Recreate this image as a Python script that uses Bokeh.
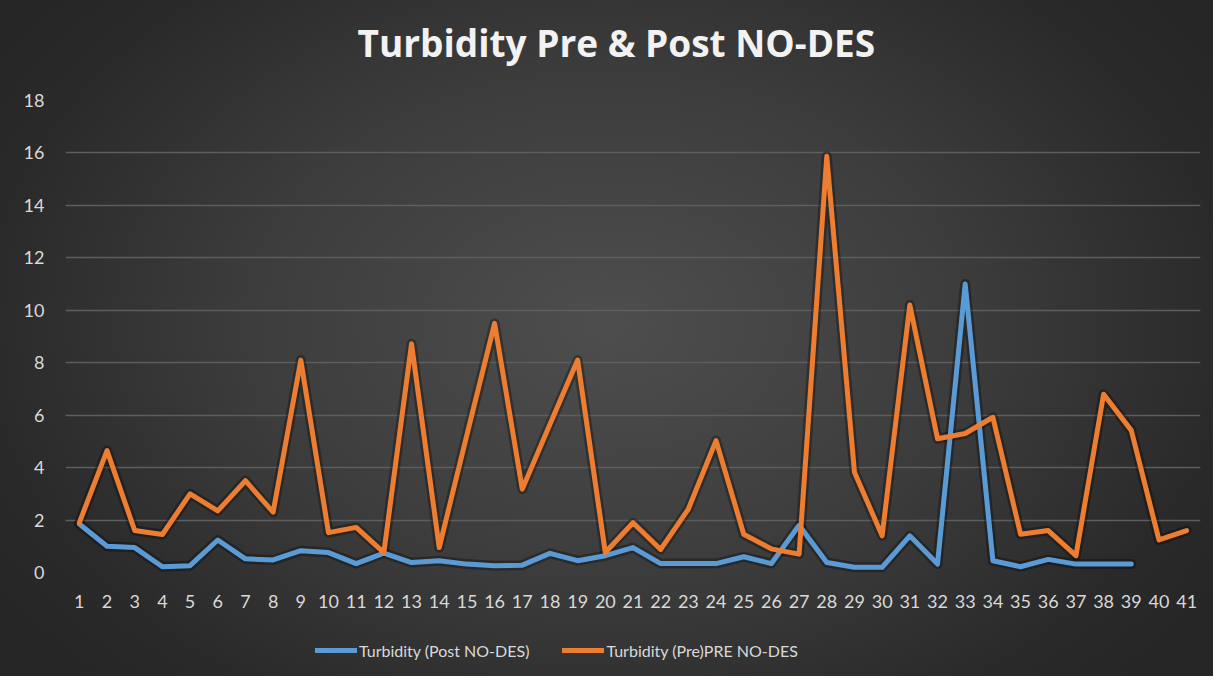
from bokeh.plotting import figure
from bokeh.layouts import column
from bokeh.models import FactorRange, Range1d, FixedTicker, Legend, LegendItem, Title
from bokeh.embed import file_html
from bokeh.resources import INLINE

samples = [str(i) for i in range(1, 42)]
post_values = [1.85, 1.0, 0.95, 0.22, 0.26, 1.24, 0.52, 0.48, 0.83, 0.76,
               0.34, 0.74, 0.38, 0.45, 0.32, 0.26, 0.28, 0.73, 0.45, 0.64,
               0.95, 0.34, 0.34, 0.34, 0.6, 0.34, 1.8, 0.38, 0.2, 0.2,
               1.4, 0.32, 11.0, 0.45, 0.22, 0.5, 0.32, 0.32, 0.32]
pre_values = [1.9, 4.65, 1.6, 1.45, 3.0, 2.35, 3.5, 2.3, 8.1, 1.52,
              1.72, 0.76, 8.72, 0.95, 5.25, 9.5, 3.18, 5.65, 8.1, 0.76,
              1.9, 0.88, 2.42, 5.03, 1.46, 0.9, 0.7, 15.87, 3.82, 1.4,
              10.2, 5.1, 5.3, 5.92, 1.46, 1.6, 0.64, 6.8, 5.42, 1.24, 1.6]
y_ticks = [0, 2, 4, 6, 8, 10, 12, 14, 16, 18]
title_text = "Turbidity Pre & Post NO-DES"
post_label = "Turbidity (Post NO-DES)"
pre_label = "Turbidity (Pre)PRE NO-DES"

FONT = "Lato"
TXT = "#d9d9d9"
BLUE = "#5b9bd5"
ORANGE = "#ed7d31"


def strip(height):
    f = figure(width=1213, height=height, output_backend="svg", toolbar_location=None,
               x_axis_location=None, y_axis_location=None, min_border=0,
               x_range=FactorRange(factors=samples), y_range=Range1d(-40, -30),
               title=None)
    f.border_fill_color = None
    f.background_fill_color = None
    f.outline_line_color = None
    f.grid.visible = False
    return f


# title strip
top = strip(88)
top.add_layout(Title(text=title_text, align="left", offset=292, vertical_align="top",
                     standoff=32, text_font="Open Sans", text_font_style="bold",
                     text_font_size="37px", text_color="#f2f2f2"), "above")

# main chart
p = figure(width=1213, height=532,
           x_range=FactorRange(factors=samples),
           y_range=Range1d(0, 18),
           output_backend="svg", toolbar_location=None, title=None,
           min_border_left=65, min_border_right=13,
           min_border_top=12, min_border_bottom=48)
p.border_fill_color = None
p.background_fill_color = None
p.outline_line_color = None

for ax in (p.xaxis[0], p.yaxis[0]):
    ax.axis_line_color = None
    ax.major_tick_line_color = None
    ax.minor_tick_line_color = None
    ax.major_label_text_font = FONT
    ax.major_label_text_font_size = "18px"
    ax.major_label_text_color = TXT
p.xaxis[0].major_label_standoff = 16
p.yaxis[0].major_label_standoff = 15
p.yaxis[0].ticker = FixedTicker(ticks=y_ticks)

p.xgrid.visible = False
p.ygrid.grid_line_color = "#5e5e5e"
p.ygrid.grid_line_width = 1.5

# shadows
p.line(x=samples[:len(post_values)], y=post_values, line_width=10, line_color="black",
       line_alpha=0.3, line_join="round", line_cap="round")
p.line(x=samples, y=pre_values, line_width=10, line_color="black",
       line_alpha=0.3, line_join="round", line_cap="round")

p.line(x=samples[:len(post_values)], y=post_values, line_width=5,
       line_color=BLUE, line_join="round", line_cap="round")
p.line(x=samples, y=pre_values, line_width=5,
       line_color=ORANGE, line_join="round", line_cap="round")

# legend strip (same series, drawn out of its view so only the legend keys show)
lg = strip(56)
k_post = lg.line(x=samples[:len(post_values)], y=post_values, line_width=5,
                 line_color=BLUE, line_cap="round")
k_pre = lg.line(x=samples, y=pre_values, line_width=5,
                line_color=ORANGE, line_cap="round")
legend = Legend(items=[LegendItem(label=post_label, renderers=[k_post]),
                       LegendItem(label=pre_label, renderers=[k_pre])],
                orientation="horizontal", location=(245, 11),
                glyph_width=42, glyph_height=20, label_standoff=2, spacing=33,
                padding=5, margin=0,
                label_text_font=FONT, label_text_font_size="16px",
                label_text_color=TXT,
                background_fill_alpha=0, border_line_alpha=0)
lg.add_layout(legend, "center")

layout = column(top, p, lg, spacing=0, width=1213, height=676)
layout.styles = {"background": "radial-gradient(ellipse 60% 75% at 50% 48%, #4e4e4e 0%, #3c3c3c 50%, #2a2a2a 85%, #262626 100%)"}

open("out.html", "w").write(file_html(layout, INLINE))
